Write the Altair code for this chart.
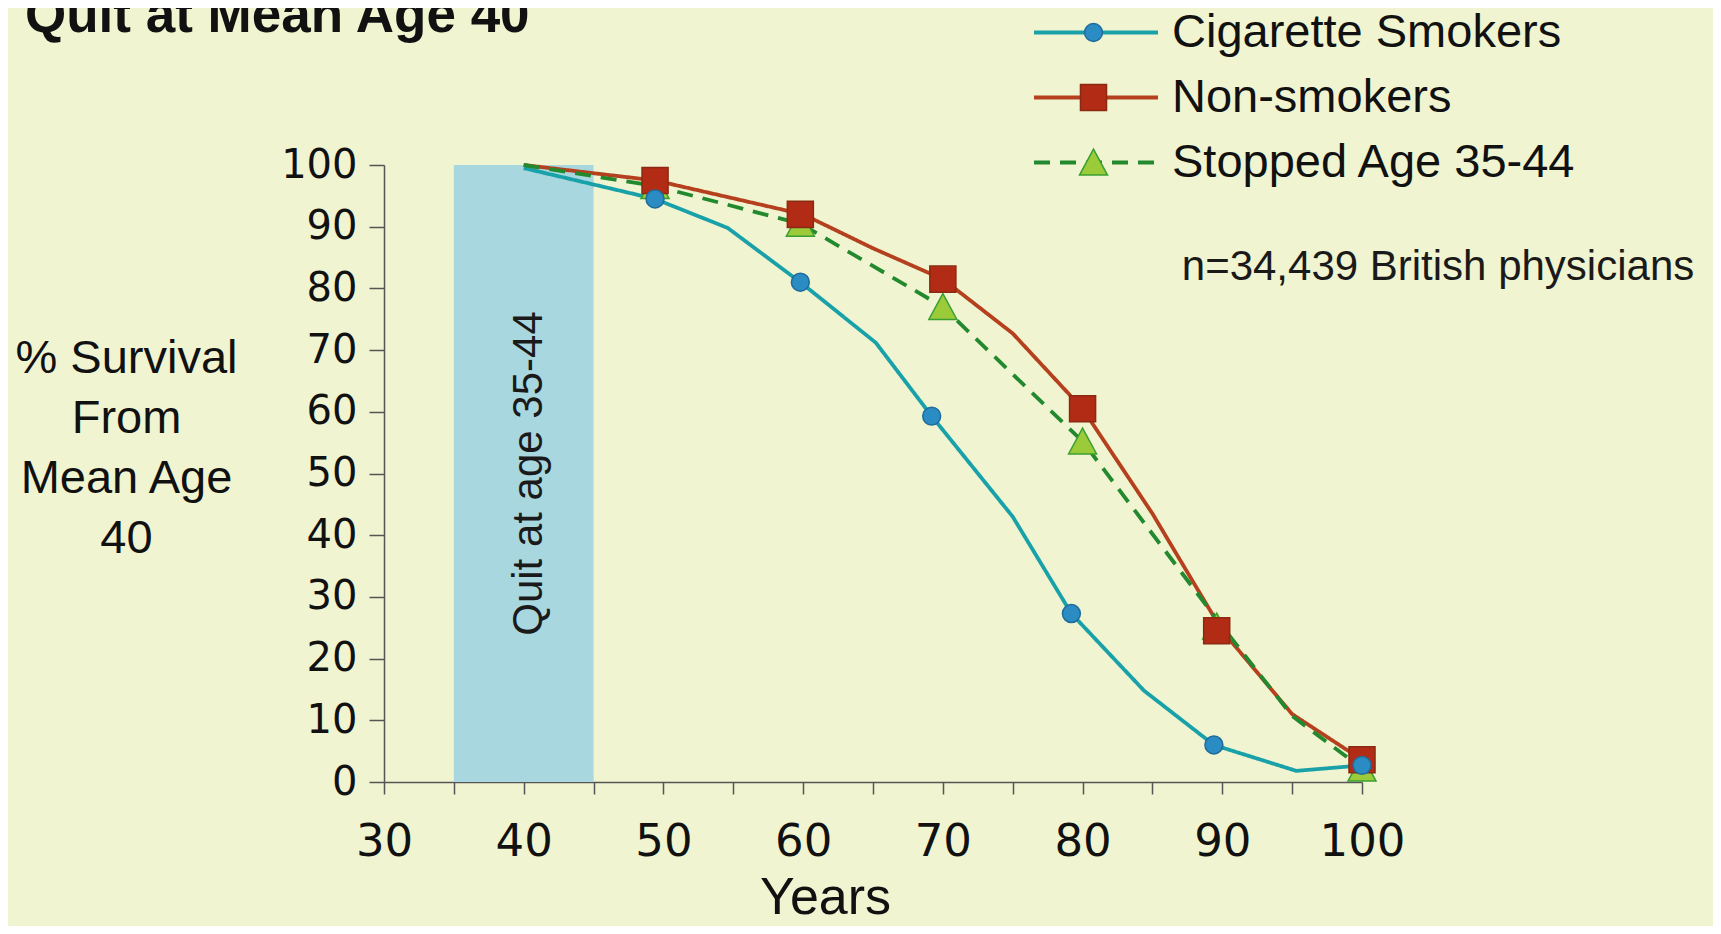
import altair as alt
import pandas as pd

# ---------------- data ----------------
SERIES = ["Cigarette Smokers", "Non-smokers", "Stopped Age 35-44"]

# line vertices (age, % survival)
cig_age = [40, 49.4, 54.6, 59.8, 65.2, 69.2, 75, 79.2, 84.4, 89.4, 95.3, 100]
cig_val = [99.5, 94.5, 89.8, 81, 71.2, 59.3, 43, 27.3, 14.8, 6, 1.8, 2.7]
non_age = [40, 49.4, 60, 65, 70, 75, 80, 85, 90, 95, 100]
non_val = [100, 97.5, 92, 86.5, 81.5, 72.7, 60.5, 43.5, 24.5, 11, 3.6]
stop_age = [40, 49.4, 59.8, 70, 80, 90, 95, 100]
stop_val = [100, 96.6, 90.5, 77, 55.2, 25.2, 10.7, 2.2]

# marker points
cig_mark_age = [49.4, 59.8, 69.2, 79.2, 89.4, 100]
cig_mark_val = [94.5, 81, 59.3, 27.3, 6, 2.7]
non_mark_age = [49.4, 59.8, 70, 80, 89.6, 100]
non_mark_val = [97.5, 92, 81.5, 60.5, 24.5, 3.6]
stop_mark_age = [49.4, 59.8, 70, 80, 89.6, 100]
stop_mark_val = [96.6, 90.5, 77, 55.2, 25.2, 2.2]

# shaded "quit" band
band_start = [35]
band_end = [45]
band_label = ["Quit at age 35-44"]

x_ticks = list(range(30, 101, 5))
y_ticks = list(range(0, 101, 10))

TITLE = "Quit at Mean Age 40"
Y_TITLE = ["% Survival", "From", "Mean Age", "40"]
X_TITLE = "Years"
NOTE = "n=34,439 British physicians"

# ---------------- tables ----------------
line_df = pd.concat([
    pd.DataFrame({"age": cig_age, "value": cig_val, "series": SERIES[0]}),
    pd.DataFrame({"age": non_age, "value": non_val, "series": SERIES[1]}),
    pd.DataFrame({"age": stop_age, "value": stop_val, "series": SERIES[2]}),
], ignore_index=True)

mark_df = pd.concat([
    pd.DataFrame({"age": stop_mark_age, "value": stop_mark_val, "marker_series": SERIES[2]}),
    pd.DataFrame({"age": non_mark_age, "value": non_mark_val, "marker_series": SERIES[1]}),
    pd.DataFrame({"age": cig_mark_age, "value": cig_mark_val, "marker_series": SERIES[0]}),
], ignore_index=True)

band_df = pd.DataFrame({"start": band_start, "end": band_end, "lo": [0], "hi": [100],
                        "mid": [40.4], "ymid": [50], "label": band_label})
note_df = pd.DataFrame({"age": [87.1], "value": [83.5], "label": [NOTE]})

# ---------------- styling ----------------
LINE_COLORS = ["#19A1AA", "#B5401E", "#22892E"]
FILL_COLORS = ["#2B8CC4", "#B22B14", "#9CCB3A"]
STROKE_COLORS = ["#1F6C9C", "#8A2A12", "#3A9F32"]
CIRCLE = "M-0.64,0A0.64,0.64 0 1,0 0.64,0A0.64,0.64 0 1,0 -0.64,0Z"
SQUARE = "M-0.93,-0.93H0.93V0.93H-0.93Z"
TRIANGLE = "M0,-0.95L1,0.9L-1,0.9Z"

W, H = 978, 617

x_scale = alt.Scale(domain=[30, 100], nice=False, zero=False)
y_scale = alt.Scale(domain=[0, 100], nice=False)

x_axis = alt.Axis(
    values=x_ticks,
    labelExpr="datum.value % 10 == 0 ? datum.label : ''",
    labelOverlap=False, labelFlush=False,
    grid=False, tickSize=12, tickWidth=1.5, tickColor="#555", domainColor="#555", domainWidth=1.5,
    labelFont="DejaVu Sans", labelFontSize=45, labelColor="#111", labelPadding=25,
    title=X_TITLE, titleFont="Liberation Sans", titleFontSize=52, titleFontWeight="normal",
    titleColor="#111", titleX=441, titleY=131, titleBaseline="alphabetic", titleAlign="center",
)
y_axis = alt.Axis(
    values=y_ticks, grid=False, tickSize=15, tickWidth=1.5, tickColor="#555",
    domainColor="#555", domainWidth=1.5,
    labelFont="DejaVu Sans", labelFontSize=40, labelColor="#111", labelPadding=12,
    title=Y_TITLE, titleAngle=0, titleFont="Liberation Sans", titleFontSize=47,
    titleFontWeight="normal", titleColor="#111", titleAlign="center",
    titleBaseline="alphabetic", titleX=-258, titleY=207, titleLineHeight=60,
)

line_legend = alt.Legend(
    orient="none", legendX=648, legendY=-156, title=None, symbolType="stroke",
    symbolSize=15376, symbolStrokeWidth=4, labelFont="Liberation Sans", labelFontSize=47,
    labelColor="#111", labelOffset=12, clipHeight=47, rowPadding=17, padding=0, labelLimit=700,
)
mark_legend = alt.Legend(
    orient="none", legendX=686, legendY=-156, title=None, symbolSize=784,
    symbolStrokeWidth=1.5, labelFont="Liberation Sans", labelFontSize=47,
    labelExpr="''", clipHeight=47, rowPadding=17, padding=0, labelOffset=0,
)

band = alt.Chart(band_df).mark_rect(color="#A9D7DF").encode(
    x=alt.X("start:Q", scale=x_scale, axis=x_axis),
    x2="end:Q",
    y=alt.Y("lo:Q", scale=y_scale, axis=y_axis),
    y2="hi:Q",
)
band_text = alt.Chart(band_df).mark_text(
    angle=270, font="Liberation Sans", fontSize=42, color="#1a1a1a", baseline="middle", align="center"
).encode(x="mid:Q", y="ymid:Q", text="label:N")

lines = alt.Chart(line_df).mark_line(strokeWidth=3.8).encode(
    x="age:Q",
    y="value:Q",
    color=alt.Color("series:N", scale=alt.Scale(domain=SERIES, range=LINE_COLORS), legend=line_legend),
    strokeDash=alt.StrokeDash("series:N",
                              scale=alt.Scale(domain=SERIES, range=[[1, 0], [1, 0], [16, 10]]),
                              legend=line_legend),
)

points = alt.Chart(mark_df).mark_point(filled=True, size=784, strokeWidth=1.5, opacity=1).encode(
    x="age:Q",
    y="value:Q",
    shape=alt.Shape("marker_series:N", scale=alt.Scale(range=[CIRCLE, SQUARE, TRIANGLE]), legend=mark_legend),
    fill=alt.Fill("marker_series:N", scale=alt.Scale(range=FILL_COLORS), legend=mark_legend),
    stroke=alt.Stroke("marker_series:N", scale=alt.Scale(range=STROKE_COLORS), legend=mark_legend),
)

note = alt.Chart(note_df).mark_text(
    align="left", baseline="middle", font="Liberation Sans", fontSize=42, color="#1a1a1a"
).encode(x="age:Q", y="value:Q", text="label:N")

chart = alt.layer(band, band_text, lines, points, note).properties(
    width=W, height=H,
    title=alt.TitleParams(TITLE, anchor="start", frame="group", font="Liberation Sans",
                          fontSize=53, fontWeight="bold", color="#111", dx=-359, dy=76, offset=0,
                          baseline="alphabetic"),
    autosize=alt.AutoSizeParams(type="none"),
    padding={"left": 376, "top": 157, "right": 351, "bottom": 144},
).configure(background="#F0F4D0").configure_view(stroke=None)

chart.save("out.html", embed_options={"renderer": "svg", "actions": False})
